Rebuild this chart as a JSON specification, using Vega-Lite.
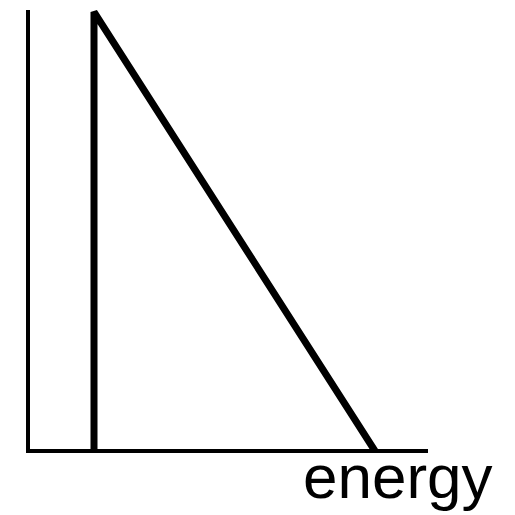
{
  "$schema": "https://vega.github.io/schema/vega-lite/v6.json",
  "width": 515,
  "height": 515,
  "padding": 0,
  "autosize": {"type": "none"},
  "background": "white",
  "config": {"view": {"stroke": null}},
  "datasets": {
    "axes": [
      {"energy": 0, "value": 441, "order": 1},
      {"energy": 0, "value": 0, "order": 2},
      {"energy": 400, "value": 0, "order": 3}
    ],
    "curve": [
      {"energy": 66, "value": 0, "order": 1},
      {"energy": 66, "value": 439, "order": 2},
      {"energy": 347, "value": 0, "order": 3}
    ],
    "label": [
      {"energy": 275, "value": -47, "text": "energy"}
    ]
  },
  "layer": [
    {
      "data": {"name": "axes"},
      "mark": {"type": "line", "color": "black", "strokeWidth": 4, "strokeJoin": "miter", "strokeCap": "butt"},
      "encoding": {
        "x": {"field": "energy", "type": "quantitative", "scale": {"domain": [-28, 487]}, "axis": null},
        "y": {"field": "value", "type": "quantitative", "scale": {"domain": [-64, 451]}, "axis": null},
        "order": {"field": "order"}
      }
    },
    {
      "data": {"name": "curve"},
      "mark": {"type": "line", "color": "black", "strokeWidth": 7, "strokeJoin": "bevel", "strokeCap": "butt"},
      "encoding": {
        "x": {"field": "energy", "type": "quantitative", "scale": {"domain": [-28, 487]}, "axis": null},
        "y": {"field": "value", "type": "quantitative", "scale": {"domain": [-64, 451]}, "axis": null},
        "order": {"field": "order"}
      }
    },
    {
      "data": {"name": "label"},
      "mark": {"type": "text", "align": "left", "baseline": "alphabetic", "font": "Liberation Sans", "fontSize": 62, "color": "black"},
      "encoding": {
        "x": {"field": "energy", "type": "quantitative", "scale": {"domain": [-28, 487]}, "axis": null},
        "y": {"field": "value", "type": "quantitative", "scale": {"domain": [-64, 451]}, "axis": null},
        "text": {"field": "text"}
      }
    }
  ]
}
